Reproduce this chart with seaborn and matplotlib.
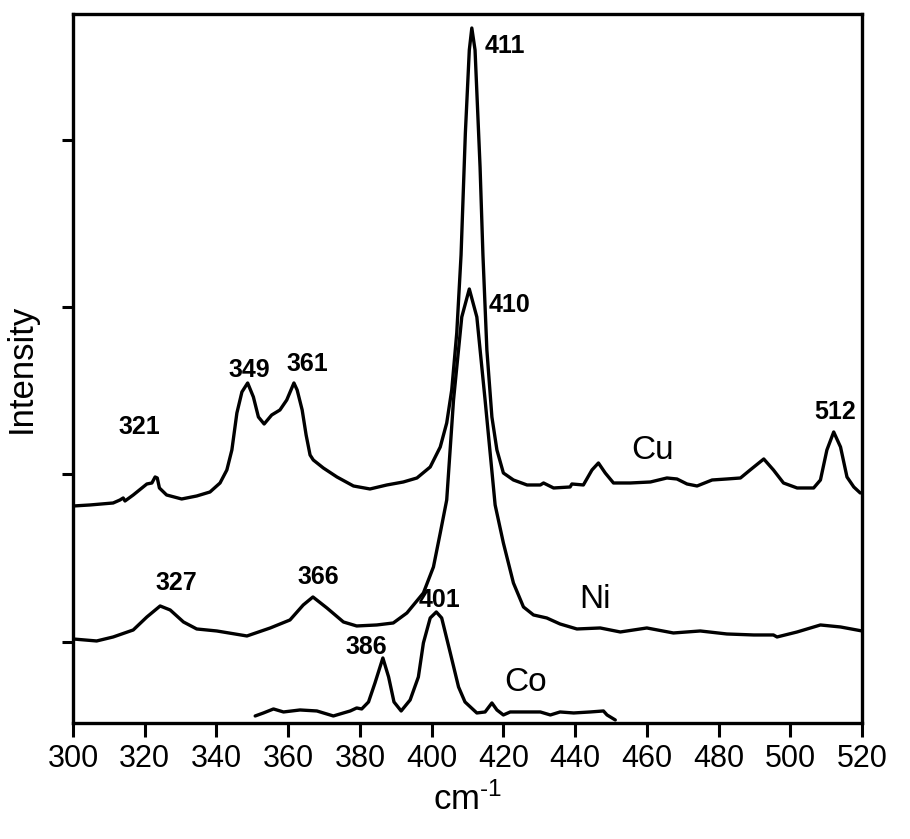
import matplotlib
matplotlib.use("Agg")
import matplotlib.pyplot as plt
import seaborn as sns
import pandas as pd

sns.set_style("ticks", {"axes.edgecolor": "black", "text.color": "black",
                        "axes.labelcolor": "black", "xtick.color": "black",
                        "ytick.color": "black"})
plt.rcParams["font.family"] = ["Liberation Sans", "DejaVu Sans"]
plt.rcParams["mathtext.fontset"] = "custom"
plt.rcParams["mathtext.rm"] = "Liberation Sans"
plt.rcParams["mathtext.default"] = "regular"
plt.rcParams["axes.unicode_minus"] = False

# Raman shift (cm-1) and intensity (arbitrary, offset traces)
cu_x = [300.1, 304.7, 311.2, 313.1, 314.0, 314.5, 316.8, 320.6, 322.0, 322.9, 323.5, 324.1,
        326.1, 330.3, 334.5, 338.2, 341.0, 342.9, 344.3, 345.7, 347.1, 348.7, 350.3, 351.7,
        353.3, 355.4, 357.7, 359.6, 361.6, 362.5, 363.9, 365.0, 366.1, 367.0, 369.8, 373.6,
        378.2, 382.8, 387.5, 392.1, 395.9, 399.6, 402.4, 404.2, 405.6, 407.0, 408.2, 409.4,
        410.5, 411.2, 412.1, 413.5, 414.3, 415.4, 416.8, 418.2, 420.0, 422.8, 426.6, 430.3,
        431.2, 434.0, 438.6, 439.1, 442.3, 444.7, 446.5, 448.4, 450.7, 455.4, 461.0, 465.6,
        468.4, 471.2, 474.0, 478.2, 482.3, 486.1, 488.8, 492.6, 495.3, 498.1, 501.9, 506.5,
        508.4, 510.2, 512.1, 514.0, 515.8, 517.7, 519.5]
cu_y = [217, 218, 220, 223, 225, 222, 228, 239, 240, 246, 245, 235,
        228, 224, 227, 231, 240, 253, 273, 310, 331, 340, 326, 306,
        299, 308, 313, 323, 340, 333, 313, 288, 268, 263, 255, 246,
        237, 234, 238, 241, 245, 256, 276, 300, 333, 390, 468, 590,
        673, 695, 673, 556, 468, 373, 306, 273, 250, 243, 238, 238,
        240, 235, 236, 239, 238, 253, 260, 250, 240, 240, 241, 245,
        244, 239, 237, 243, 244, 245, 253, 264, 253, 240, 235, 235,
        243, 273, 291, 276, 246, 236, 230]

ni_x = [300.0, 306.6, 311.2, 316.8, 320.6, 324.3, 327.1, 330.8, 334.5, 340.1, 348.5, 355.0,
        360.5, 364.2, 366.9, 370.8, 375.4, 379.1, 384.7, 389.3, 393.1, 397.7, 400.5, 402.4,
        404.2, 406.1, 408.4, 410.5, 412.6, 414.9, 417.7, 420.0, 422.8, 425.6, 428.4, 432.1,
        435.8, 440.5, 447.0, 452.6, 460.0, 467.4, 474.9, 482.3, 489.8, 495.3, 496.3, 501.9,
        508.4, 514.0, 520.0]
ni_y = [84, 82, 86, 93, 106, 117, 113, 101, 94, 92, 87, 95,
        103, 118, 126, 115, 101, 97, 98, 100, 110, 130, 156, 190,
        223, 323, 406, 434, 406, 323, 218, 180, 140, 116, 108, 105,
        99, 94, 95, 91, 95, 90, 92, 89, 88, 88, 86, 91,
        98, 96, 92]

co_x = [350.8, 353.1, 355.9, 358.7, 363.3, 368.0, 372.6, 375.4, 377.3, 379.1, 380.5, 382.4,
        384.2, 386.4, 388.0, 389.5, 391.5, 394.0, 396.3, 397.7, 399.6, 401.3, 402.8, 405.2,
        407.5, 409.3, 412.6, 414.9, 416.8, 418.2, 420.0, 421.9, 426.6, 430.3, 433.1, 435.8,
        439.6, 444.2, 447.9, 448.9, 451.2]
co_y = [7, 10, 14, 11, 13, 12, 7, 10, 12, 15, 14, 21,
        40, 65, 46, 21, 12, 23, 46, 80, 105, 111, 105, 70,
        36, 21, 10, 11, 20, 13, 8, 11, 11, 11, 8, 11,
        10, 11, 12, 8, 3]

peak_labels = ["321", "349", "361", "411", "512", "327", "366", "410", "386", "401"]
peak_label_x = [318.4, 349.1, 365.3, 420.5, 512.6, 328.7, 368.3, 421.6, 381.7, 402.3]
peak_label_y = [296, 353, 359, 677, 311, 140, 146, 418, 76, 123]

sample_names = ["Cu", "Ni", "Co"]
sample_label_x = [461.5, 445.6, 426.1]
sample_label_y = [272, 123, 40]

df = pd.concat([
    pd.DataFrame({"shift": cu_x, "intensity": cu_y, "sample": "Cu"}),
    pd.DataFrame({"shift": ni_x, "intensity": ni_y, "sample": "Ni"}),
    pd.DataFrame({"shift": co_x, "intensity": co_y, "sample": "Co"}),
])

fig = plt.figure(figsize=(9.1, 8.39), dpi=100)
ax = fig.add_axes([0.0802, 0.1383, 0.8671, 0.845])

for name in sample_names:
    sns.lineplot(data=df[df["sample"] == name], x="shift", y="intensity",
                 color="black", linewidth=2.4, ax=ax, legend=False)

for t, x, y in zip(peak_labels, peak_label_x, peak_label_y):
    ax.text(x, y, t, ha="center", va="center", fontsize=18, fontweight="bold")
for t, x, y in zip(sample_names, sample_label_x, sample_label_y):
    ax.text(x, y, t, ha="center", va="center", fontsize=24)

ax.set_xlim(300, 520)
ax.set_ylim(0, 709)
ax.set_xticks(range(300, 521, 20))
ax.set_yticks([81, 249, 416, 583])
ax.set_yticklabels([])
ax.tick_params(axis="x", direction="out", length=10, width=2.2, labelsize=22, pad=5)
ax.tick_params(axis="y", direction="out", length=8, width=2.2)
for s in ax.spines.values():
    s.set_linewidth(2.4)
    s.set_visible(True)

# hyphen (U+2010) instead of a math minus, as in the original axis title
ax.set_xlabel("cm$^{\u20101}$", fontsize=25, labelpad=6)
ax.set_ylabel("Intensity", fontsize=25, labelpad=14)

fig.savefig("out.png", dpi=100)
